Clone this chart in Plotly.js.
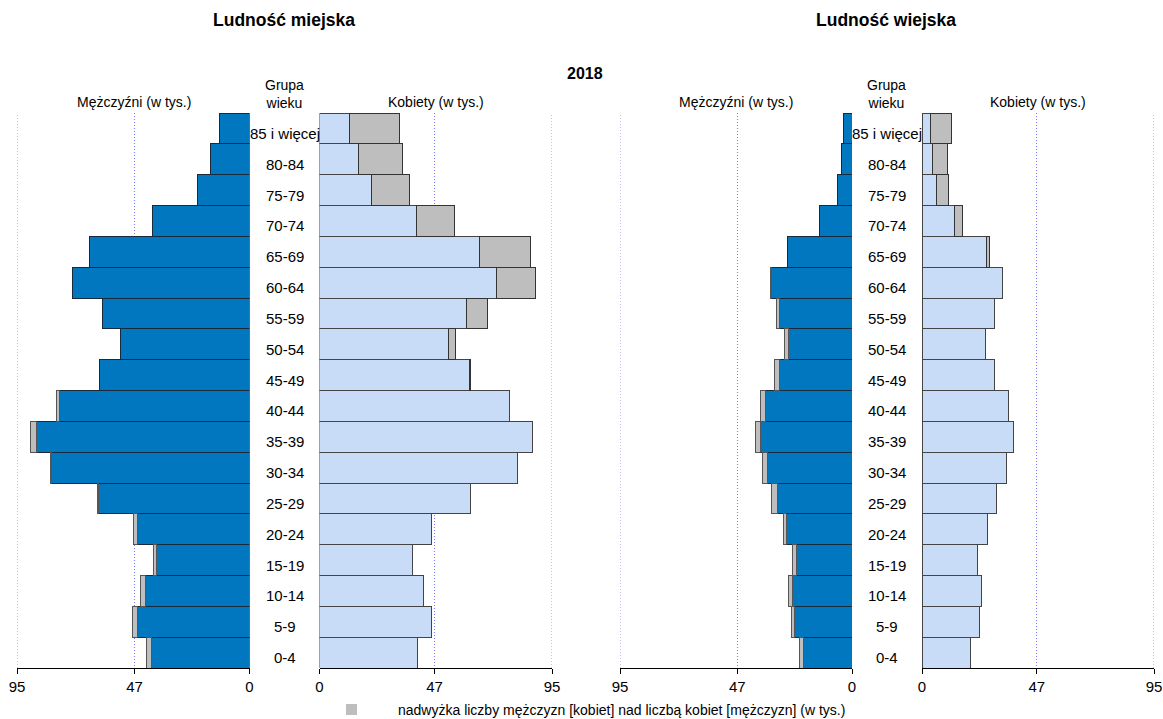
<!DOCTYPE html>
<html>
<head>
<meta charset="utf-8">
<script src="https://cdn.plot.ly/plotly-3.0.1.min.js"></script>
<style>html,body{margin:0;padding:0;background:#fff;}#chart{width:1163px;height:719px;}</style>
</head>
<body>
<div id="chart"></div>
<script>
// Age groups, bottom to top
const ages = ['0-4','5-9','10-14','15-19','20-24','25-29','30-34','35-39','40-44','45-49','50-54','55-59','60-64','65-69','70-74','75-79','80-84','85 i więcej'];
// Urban population (thousands)
const urbanMen   = [42.2, 48.0, 44.7, 39.1, 47.3, 62.0, 81.3, 89.3, 78.7, 61.4, 52.8, 60.1, 72.2, 65.5, 39.6, 21.2, 16.0, 12.2];
const urbanWomen = [40.0, 45.8, 42.4, 38.0, 45.9, 61.9, 81.0, 87.1, 77.6, 61.6, 55.5, 68.7, 88.3, 86.1, 55.2, 36.6, 33.9, 32.5];
// Rural population (thousands)
const ruralMen   = [21.5, 24.9, 25.8, 24.3, 28.1, 32.9, 36.6, 39.5, 37.5, 31.6, 27.8, 31.1, 33.5, 26.4, 13.4, 6.0, 4.5, 3.5];
const ruralWomen = [20.0, 23.5, 24.4, 22.8, 27.0, 30.6, 34.7, 37.6, 35.4, 29.7, 26.1, 29.7, 32.9, 27.7, 16.4, 10.9, 10.5, 12.0];
const tickVals = [0, 47, 95];
const tickText = ['0', '47', '95'];

const W = 1163, H = 719;
const px = v => v / W;
const py = v => 1 - v / H;

const DARK = '#0077be', LIGHT = '#c9dcf7', GREY = '#bebebe', GRID = '#7a7aff';
const FONT = 'Liberation Sans, Arial, sans-serif';

function minArr(a, b) { return a.map((v, i) => Math.min(v, b[i])); }
function excess(a, b) { return a.map((v, i) => (v - b[i] > 0.05 ? +(v - b[i]).toFixed(2) : null)); }

function panel(men, women, xm, xf) {
  const base = minArr(men, women);
  return [
    {type:'bar', orientation:'h', y:ages, x:base, xaxis:xm, yaxis:'y', marker:{color:DARK, line:{color:'#1b2a3a', width:1}}, showlegend:false, hoverinfo:'x+y'},
    {type:'bar', orientation:'h', y:ages, x:excess(men, women), xaxis:xm, yaxis:'y', marker:{color:GREY, line:{color:'#555', width:1}}, showlegend:false, hoverinfo:'x+y'},
    {type:'bar', orientation:'h', y:ages, x:base, xaxis:xf, yaxis:'y', marker:{color:LIGHT, line:{color:'#444', width:1}}, showlegend:false, hoverinfo:'x+y'},
    {type:'bar', orientation:'h', y:ages, x:excess(women, men), xaxis:xf, yaxis:'y', marker:{color:GREY, line:{color:'#333', width:1}}, showlegend:false, hoverinfo:'x+y'}
  ];
}

const data = [].concat(
  panel(urbanMen, urbanWomen, 'x', 'x2'),
  panel(ruralMen, ruralWomen, 'x3', 'x4')
);

function xax(d0, d1, reversed) {
  return {
    domain:[px(d0), px(d1)], anchor:'y', range: reversed ? [95, 0] : [0, 95],
    tickvals:tickVals, ticktext:tickText, ticks:'outside', ticklen:5, tickcolor:'#000',
    showline:true, linecolor:'#000', linewidth:1, zeroline:false,
    showgrid:true, gridcolor:GRID, griddash:'1px,2px', gridwidth:1,
    tickfont:{family:FONT, size:15, color:'#000'}, fixedrange:true
  };
}

const ann = [];
function txt(text, x, y, size, bold, extra) {
  ann.push(Object.assign({text: bold ? '<b>' + text + '</b>' : text, x:px(x), y:py(y), xref:'paper', yref:'paper',
    showarrow:false, xanchor:'center', yanchor:'middle', font:{family:FONT, size:size, color:'#000'}}, extra || {}));
}
txt('Ludność miejska', 284, 20, 17.5, true);
txt('Ludność wiejska', 886, 20, 17.5, true);
txt('2018', 585, 73, 16, true);
txt('Grupa<br>wieku', 284, 94, 14, false);
txt('Grupa<br>wieku', 886, 94, 14, false);
txt('Mężczyźni (w tys.)', 134, 102, 14, false);
txt('Kobiety (w tys.)', 436, 102, 14, false);
txt('Mężczyźni (w tys.)', 736, 102, 14, false);
txt('Kobiety (w tys.)', 1038, 102, 14, false);
txt('nadwyżka liczby mężczyzn [kobiet] nad liczbą kobiet [mężczyzn] (w tys.)', 396, 710, 14, false, {xanchor:'left'});
ages.forEach(a => {
  ann.push({text:a, x:px(284.5), y:a, xref:'paper', yref:'y', showarrow:false, xanchor:'center', yanchor:'middle', yshift:-5, font:{family:FONT, size:15, color:'#000'}});
  ann.push({text:a, x:px(887), y:a, xref:'paper', yref:'y', showarrow:false, xanchor:'center', yanchor:'middle', yshift:-5, font:{family:FONT, size:15, color:'#000'}});
});

// dotted gridlines at the outer 95 edge (Plotly omits grid at range ends)
const edgeLines = [['x', 95], ['x2', 95], ['x3', 95], ['x4', 95]].map(([ax, v]) => ({
  type:'line', xref:ax, yref:'paper', x0:v, x1:v, y0:py(668), y1:py(113), layer:'below',
  line:{color:GRID, width:1, dash:'1px,2px'}
}));

const layout = {
  width:W, height:H, margin:{l:0, r:0, t:0, b:0}, paper_bgcolor:'#fff', plot_bgcolor:'rgba(0,0,0,0)',
  barmode:'stack', bargap:0, showlegend:false,
  xaxis: xax(17, 249.5, true),
  xaxis2: xax(319.5, 552, false),
  xaxis3: xax(620, 852, true),
  xaxis4: xax(922, 1154, false),
  yaxis: {domain:[py(668), py(113)], range:[-0.5, 17.5], type:'category', categoryorder:'array', categoryarray:ages,
          showticklabels:false, showgrid:false, zeroline:false, showline:false, ticks:'', fixedrange:true},
  annotations: ann,
  shapes: edgeLines.concat([
    {type:'rect', xref:'paper', yref:'paper', x0:px(346), x1:px(357), y0:py(715), y1:py(704), fillcolor:GREY, line:{width:0}}
  ])
};

Plotly.newPlot('chart', data, layout, {displayModeBar:false, staticPlot:true});
</script>
</body>
</html>
